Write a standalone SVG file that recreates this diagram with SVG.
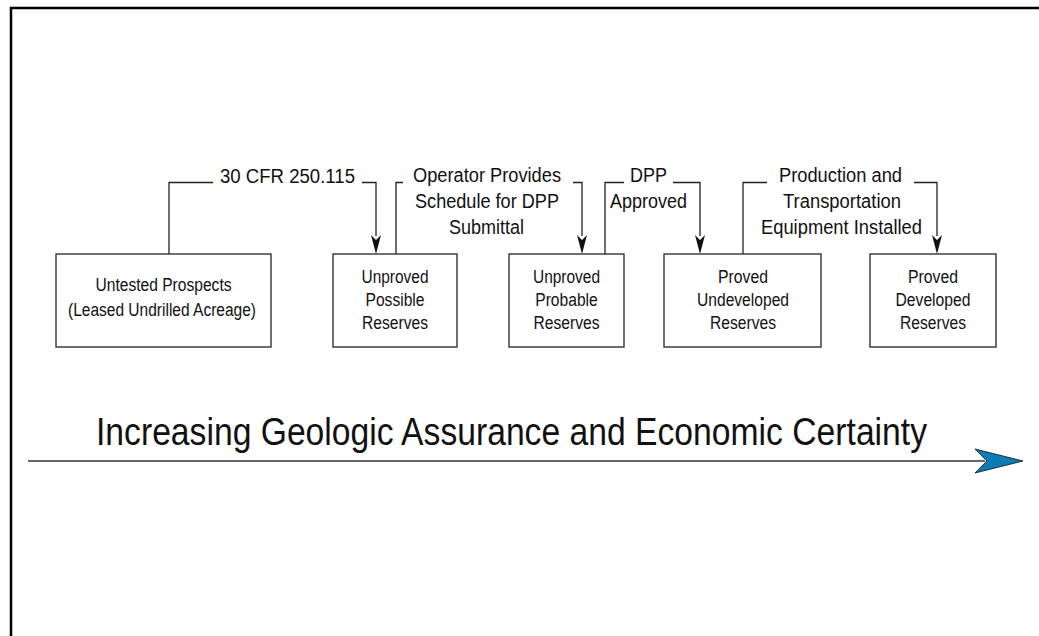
<svg xmlns="http://www.w3.org/2000/svg" width="1039" height="636" viewBox="0 0 1039 636">
<style>
.box{fill:#fff;stroke:#333;stroke-width:1.4}
.bt{font-family:"Liberation Sans",Arial,sans-serif;font-size:18px;fill:#111;text-anchor:middle}
.lt{font-family:"Liberation Sans",Arial,sans-serif;font-size:20px;fill:#111;text-anchor:middle}
.cn{fill:none;stroke:#222;stroke-width:1.3}
.ah{fill:#111}
</style>
<rect width="1039" height="636" fill="#fff"/>
<path d="M11,636 V8 H1039" fill="none" stroke="#000" stroke-width="2.5"/>

<g id="connectors">
<path class="cn" d="M169,254 V182.5 H213"/>
<path class="cn" d="M362,182.5 H376 V236"/>
<path class="ah" d="M371,235 L376,254 L381,235 L376,240 Z"/>
<path class="cn" d="M396,254 V182.5 H403"/>
<path class="cn" d="M573,182.5 H582 V236"/>
<path class="ah" d="M577,235 L582,254 L587,235 L582,240 Z"/>
<path class="cn" d="M605,254 V182.5 H624"/>
<path class="cn" d="M673,182.5 H700 V236"/>
<path class="ah" d="M695,235 L700,254 L705,235 L700,240 Z"/>
<path class="cn" d="M743,254 V182.5 H767"/>
<path class="cn" d="M914,182.5 H937 V236"/>
<path class="ah" d="M932,235 L937,254 L942,235 L937,240 Z"/>
</g>

<g id="labels">
<text class="lt" x="287.5" y="183" textLength="135" lengthAdjust="spacingAndGlyphs">30 CFR 250.115</text>
<text class="lt" x="487" y="182" textLength="148" lengthAdjust="spacingAndGlyphs">Operator Provides</text>
<text class="lt" x="487" y="208" textLength="144" lengthAdjust="spacingAndGlyphs">Schedule for DPP</text>
<text class="lt" x="486.5" y="234" textLength="75" lengthAdjust="spacingAndGlyphs">Submittal</text>
<text class="lt" x="648.5" y="182" textLength="37" lengthAdjust="spacingAndGlyphs">DPP</text>
<text class="lt" x="648.5" y="208" textLength="77" lengthAdjust="spacingAndGlyphs">Approved</text>
<text class="lt" x="840.5" y="182" textLength="123" lengthAdjust="spacingAndGlyphs">Production and</text>
<text class="lt" x="842" y="208" textLength="118" lengthAdjust="spacingAndGlyphs">Transportation</text>
<text class="lt" x="841.5" y="234" textLength="161" lengthAdjust="spacingAndGlyphs">Equipment Installed</text>
</g>

<g id="n1">
<rect class="box" x="56" y="254" width="215" height="93"/>
<text class="bt" x="163.5" y="291" textLength="136" lengthAdjust="spacingAndGlyphs">Untested Prospects</text>
<text class="bt" x="162" y="316" textLength="188" lengthAdjust="spacingAndGlyphs">(Leased Undrilled Acreage)</text>
</g>
<g id="n2">
<rect class="box" x="333" y="254" width="124" height="93"/>
<text class="bt" x="395" y="283" textLength="67" lengthAdjust="spacingAndGlyphs">Unproved</text>
<text class="bt" x="395" y="306" textLength="59" lengthAdjust="spacingAndGlyphs">Possible</text>
<text class="bt" x="395" y="329" textLength="66" lengthAdjust="spacingAndGlyphs">Reserves</text>
</g>
<g id="n3">
<rect class="box" x="509" y="254" width="115" height="93"/>
<text class="bt" x="566.5" y="283" textLength="67" lengthAdjust="spacingAndGlyphs">Unproved</text>
<text class="bt" x="566.5" y="306" textLength="62.5" lengthAdjust="spacingAndGlyphs">Probable</text>
<text class="bt" x="566.5" y="329" textLength="66" lengthAdjust="spacingAndGlyphs">Reserves</text>
</g>
<g id="n4">
<rect class="box" x="664" y="254" width="157" height="93"/>
<text class="bt" x="743" y="283" textLength="50" lengthAdjust="spacingAndGlyphs">Proved</text>
<text class="bt" x="743" y="306" textLength="92" lengthAdjust="spacingAndGlyphs">Undeveloped</text>
<text class="bt" x="743" y="329" textLength="66" lengthAdjust="spacingAndGlyphs">Reserves</text>
</g>
<g id="n5">
<rect class="box" x="870" y="254" width="126" height="93"/>
<text class="bt" x="933" y="283" textLength="50" lengthAdjust="spacingAndGlyphs">Proved</text>
<text class="bt" x="933" y="306" textLength="75" lengthAdjust="spacingAndGlyphs">Developed</text>
<text class="bt" x="933" y="329" textLength="66" lengthAdjust="spacingAndGlyphs">Reserves</text>
</g>

<g id="axis">
<text x="96" y="445" font-family="'Liberation Sans',Arial,sans-serif" font-size="38" fill="#111" textLength="831" lengthAdjust="spacingAndGlyphs">Increasing Geologic Assurance and Economic Certainty</text>
<line x1="28" y1="461" x2="985" y2="461" stroke="#666" stroke-width="2"/>
<path d="M975,449 L1023,461 L975,473 L987,461 Z" fill="#0a7cb6" stroke="#111" stroke-width="0.8"/>
</g>
</svg>
